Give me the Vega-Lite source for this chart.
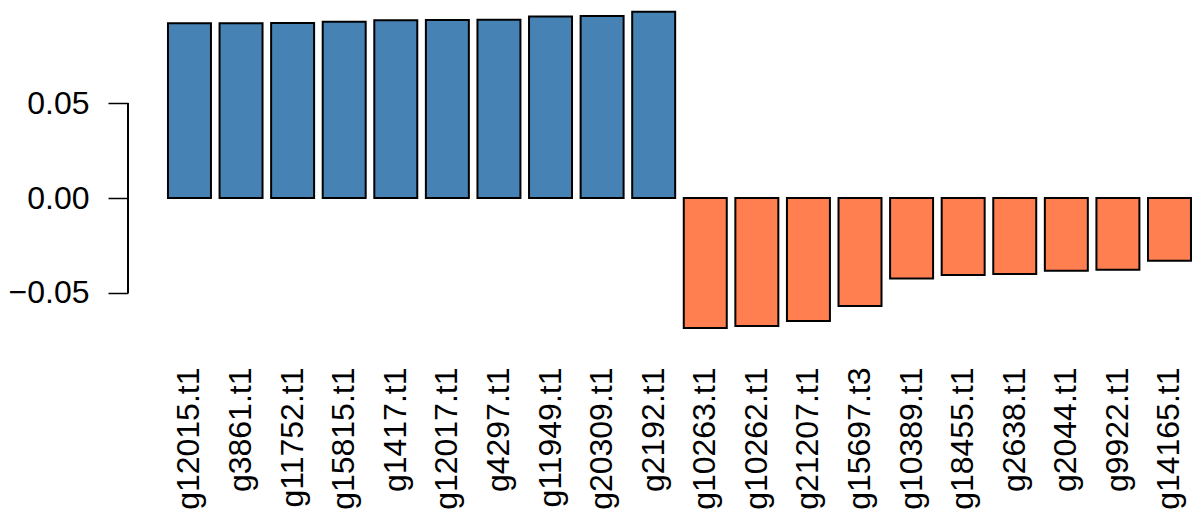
{
  "$schema": "https://vega.github.io/schema/vega-lite/v6.json",
  "autosize": {"type": "none"},
  "padding": {"left": 128, "top": 0, "right": 0, "bottom": 170},
  "width": 1065,
  "height": 341,
  "background": "white",
  "config": {
    "view": {"stroke": null},
    "font": "Liberation Sans",
    "axis": {"grid": false, "labelColor": "black", "tickColor": "black", "domainColor": "black", "labelFont": "Liberation Sans"}
  },
  "data": {
    "values": [
      {"gene": "g12015.t1", "value": 0.0922},
      {"gene": "g3861.t1", "value": 0.0922},
      {"gene": "g11752.t1", "value": 0.0924},
      {"gene": "g15815.t1", "value": 0.0931},
      {"gene": "g1417.t1", "value": 0.0938},
      {"gene": "g12017.t1", "value": 0.0940},
      {"gene": "g4297.t1", "value": 0.0941},
      {"gene": "g11949.t1", "value": 0.0958},
      {"gene": "g20309.t1", "value": 0.0961},
      {"gene": "g2192.t1", "value": 0.0984},
      {"gene": "g10263.t1", "value": -0.0686},
      {"gene": "g10262.t1", "value": -0.0676},
      {"gene": "g21207.t1", "value": -0.0649},
      {"gene": "g15697.t3", "value": -0.0570},
      {"gene": "g10389.t1", "value": -0.0425},
      {"gene": "g18455.t1", "value": -0.0407},
      {"gene": "g2638.t1", "value": -0.0401},
      {"gene": "g2044.t1", "value": -0.0384},
      {"gene": "g9922.t1", "value": -0.0379},
      {"gene": "g14165.t1", "value": -0.0331}
    ]
  },
  "layer": [
    {
      "mark": {"type": "bar", "stroke": "black", "strokeWidth": 2},
      "encoding": {
        "x": {
          "field": "gene", "type": "nominal", "sort": null,
          "scale": {"paddingInner": 0.1667, "paddingOuter": 0.407, "align": 0.952},
          "axis": {"title": null, "labelAngle": -90, "labelAlign": "right", "labelBaseline": "middle", "ticks": false, "domain": false, "labelPadding": 26, "labelFontSize": 32}
        },
        "y": {
          "field": "value", "type": "quantitative",
          "scale": {"domain": [-0.0755, 0.10454], "nice": false, "zero": false},
          "axis": {"title": null, "values": [-0.05, 0, 0.05], "format": ".2f", "domain": false, "tickSize": 20, "tickWidth": 1.5, "labelPadding": 19, "labelFontSize": 32}
        },
        "color": {"condition": {"test": "datum.value > 0", "value": "#4682B4"}, "value": "#FF7F50"}
      }
    },
    {
      "mark": {"type": "rule", "color": "black", "strokeWidth": 1.5},
      "encoding": {
        "x": {"value": 0},
        "y": {"datum": -0.05},
        "y2": {"datum": 0.05}
      }
    }
  ]
}
